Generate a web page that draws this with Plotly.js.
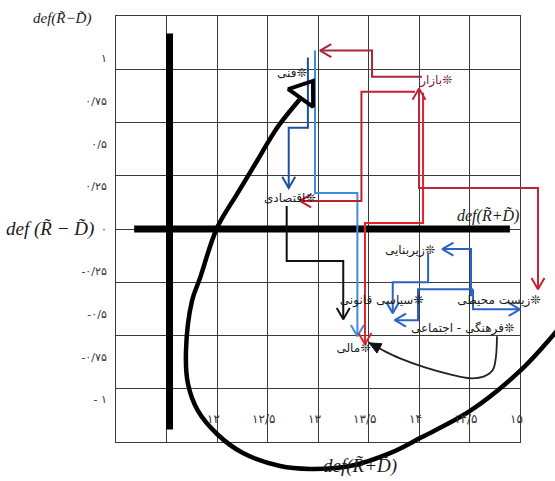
<!DOCTYPE html>
<html><head><meta charset="utf-8">
<script src="https://cdn.plot.ly/plotly-3.0.1.min.js"></script>
<style>html,body{margin:0;padding:0;background:#fff}#chart{width:555px;height:481px}</style>
</head><body><div id="chart"></div>
<script>
// ---- axis values / tick labels ----
const xRange = [11, 15];
const yRange = [-1.25, 1.25];
const yTickVals = [1, 0.75, 0.5, 0.25, 0, -0.25, -0.5, -0.75, -1];
const yTickText = ['۱', '۰/۷۵', '۰/۵', '۰/۲۵', '۰', '-۰/۲۵', '-۰/۵', '-۰/۷۵', '- ۱'];
const xTickVals = [12, 12.5, 13, 13.5, 14, 14.5, 15];
const xTickText = ['۱۲', '۱۲/۵', '۱۳', '۱۳/۵', '۱۴', '۱۴/۵', '۱۵'];

// ---- criteria (nodes) ----
const nodeNames = ['فنی❊', 'بازار❊', 'اقتصادی❊', 'زیربنایی❊', 'سیاسی قانونی❊', 'زیست محیطی❊', 'فرهنگی - اجتماعی❊', 'مالی❊'];
const nodeX = [12.74, 14.17, 12.72, 13.91, 13.63, 14.79, 14.43, 13.35];
const nodeY = [0.912, 0.871, 0.176, -0.129, -0.424, -0.424, -0.588, -0.706];

// ---- thick main axes ----
const axisHX = [11.18, 14.90];
const axisHY = [0, 0];
const axisVX = [11.53, 11.53];
const axisVY = [1.147, -1.176];

// ---- relation paths (step arrows) ----
const techEcoX = [12.90, 12.90, 12.71, 12.71];
const techEcoY = [1.006, 0.594, 0.594, 0.241];
const techFinX = [12.97, 12.97, 13.39, 13.39];
const techFinY = [1.047, 0.212, 0.212, -0.629];
const marketTechX = [14.03, 13.535, 13.535, 13.02];
const marketTechY = [0.894, 0.894, 1.047, 1.047];
const marketEcoX = [13.96, 13.43, 13.43, 12.82];
const marketEcoY = [0.806, 0.806, 0.165, 0.165];
const marketFinX = [14.04, 14.04, 13.465, 13.465];
const marketFinY = [0.800, 0.035, 0.035, -0.676];
const marketEnvX = [14.0, 14.0, 15.178, 15.178];
const marketEnvY = [0.824, 0.241, 0.241, -0.353];
const ecoPolX = [12.69, 12.69, 13.25, 13.25];
const ecoPolY = [0.135, -0.188, -0.188, -0.529];
const envInfraX = [14.515, 14.515, 14.23];
const envInfraY = [-0.394, -0.118, -0.118];
const infraPolX = [14.09, 14.09, 13.74, 13.74];
const infraPolY = [-0.141, -0.312, -0.312, -0.494];
const envPolX = [14.535, 13.99, 13.99, 13.76];
const envPolY = [-0.353, -0.353, -0.535, -0.535];
const envRightX = [14.535, 14.535, 15.0];
const envRightY = [-0.353, -0.471, -0.471];

// ---- curves ----
const cultFinX = [14.772, 14.762, 14.733, 14.644, 14.505, 14.307, 14.059, 13.812, 13.663, 13.505];
const cultFinY = [-0.629, -0.747, -0.824, -0.865, -0.876, -0.853, -0.812, -0.759, -0.718, -0.668];
const bigCurveX = [15.40, 15.347, 15.0, 14.505, 14.010, 13.713, 13.317, 12.921, 12.624, 12.257, 12.0, 11.812, 11.713, 11.693, 11.752, 11.832, 12.0, 12.198, 12.396, 12.594, 12.822, 12.950];
const bigCurveY = [-0.57, -0.610, -0.833, -1.068, -1.227, -1.315, -1.391, -1.408, -1.391, -1.315, -1.203, -1.068, -0.910, -0.716, -0.423, -0.288, 0.006, 0.205, 0.399, 0.593, 0.763, 0.869];

// ---- figure geometry ----
const W = 555, H = 481;
const plotL = 116, plotR = 520, plotT = 16, plotB = 442;
const xDomain = [plotL / W, plotR / W];
const yDomain = [1 - plotB / H, 1 - plotT / H];
const pxPerX = (plotR - plotL) / (xRange[1] - xRange[0]);
const pxPerY = (plotB - plotT) / (yRange[1] - yRange[0]);
const x2Range = [xRange[0] - plotL / pxPerX, xRange[1] + (W - plotR) / pxPerX];
const y2Range = [yRange[0] - (H - plotB) / pxPerY, yRange[1] + plotT / pxPerY];

function toPx(x, y) { return [(x - x2Range[0]) * pxPerX, (y2Range[1] - y) * pxPerY]; }
function toData(p) { return [x2Range[0] + p[0] / pxPerX, y2Range[1] - p[1] / pxPerY]; }
// head geometry along the direction of the last segment (pixel space)
function headPoints(xs, ys, tipIdx, prevIdx, len, halfAngleDeg) {
  const T = toPx(xs[tipIdx], ys[tipIdx]);
  const P = toPx(xs[prevIdx], ys[prevIdx]);
  let dx = P[0] - T[0], dy = P[1] - T[1];
  const d = Math.hypot(dx, dy); dx /= d; dy /= d;
  const a = halfAngleDeg * Math.PI / 180;
  const legs = [-1, 1].map(s => {
    const c = Math.cos(s * a), sn = Math.sin(s * a);
    return toData([T[0] + len * (dx * c - dy * sn), T[1] + len * (dx * sn + dy * c)]);
  });
  return {tip: [xs[tipIdx], ys[tipIdx]], a: legs[0], b: legs[1]};
}

const traces = [];
const annotations = [];

// thick axes on the grid subplot
traces.push({x: axisHX, y: axisHY, xaxis: 'x', yaxis: 'y', mode: 'lines', line: {color: '#000', width: 7}, hoverinfo: 'skip'});
traces.push({x: axisVX, y: axisVY, xaxis: 'x', yaxis: 'y', mode: 'lines', line: {color: '#000', width: 7}, hoverinfo: 'skip'});

function stepPath(xs, ys, color, both) {
  const px = xs.slice(), py = ys.slice();
  const n = xs.length;
  const heads = [headPoints(xs, ys, n - 1, n - 2, 13, 30)];
  if (both) heads.push(headPoints(xs, ys, 0, 1, 13, 30));
  heads.forEach(h => { px.push(null, h.a[0], h.tip[0], h.b[0]); py.push(null, h.a[1], h.tip[1], h.b[1]); });
  traces.push({x: px, y: py, xaxis: 'x2', yaxis: 'y2', mode: 'lines', line: {color: color, width: 2}, hoverinfo: 'skip'});
}

stepPath(techEcoX, techEcoY, '#1f4fa3');
stepPath(techFinX, techFinY, '#3d8de0');
stepPath(marketTechX, marketTechY, '#a8283a');
stepPath(marketEcoX, marketEcoY, '#c41e2e');
stepPath(marketFinX, marketFinY, '#e3232c');
stepPath(marketEnvX, marketEnvY, '#c02438', true);
stepPath(ecoPolX, ecoPolY, '#111111');
stepPath(envInfraX, envInfraY, '#2b63c4');
stepPath(infraPolX, infraPolY, '#2b63c4');
stepPath(envPolX, envPolY, '#2b63c4');
stepPath(envRightX, envRightY, '#2b63c4');

// small curve with filled head
traces.push({x: cultFinX, y: cultFinY, xaxis: 'x2', yaxis: 'y2', mode: 'lines', line: {color: '#222', width: 1.8, shape: 'spline'}, hoverinfo: 'skip'});
{
  const n = cultFinX.length;
  const h = headPoints(cultFinX, cultFinY, n - 1, n - 2, 13, 24);
  traces.push({x: [h.a[0], h.tip[0], h.b[0], h.a[0]], y: [h.a[1], h.tip[1], h.b[1], h.a[1]], xaxis: 'x2', yaxis: 'y2',
    mode: 'lines', fill: 'toself', fillcolor: '#111', line: {color: '#111', width: 1}, hoverinfo: 'skip'});
}

// big curve with open triangular head
{
  const n = bigCurveX.length;
  traces.push({x: bigCurveX.slice(0, -1), y: bigCurveY.slice(0, -1), xaxis: 'x2', yaxis: 'y2', mode: 'lines',
    line: {color: '#000', width: 4.5, shape: 'spline', smoothing: 1}, hoverinfo: 'skip'});
  const h = headPoints(bigCurveX, bigCurveY, n - 1, n - 2, 26, 36);
  traces.push({x: [h.tip[0], h.a[0], h.b[0], h.tip[0], h.a[0]], y: [h.tip[1], h.a[1], h.b[1], h.tip[1], h.a[1]], xaxis: 'x2', yaxis: 'y2',
    mode: 'lines', line: {color: '#000', width: 4}, hoverinfo: 'skip'});
}

// node labels
traces.push({x: nodeX, y: nodeY, xaxis: 'x2', yaxis: 'y2', mode: 'text', text: nodeNames, textposition: 'middle center',
  textfont: {family: 'DejaVu Sans', size: 12, color: nodeNames.map((n, i) => i === 1 ? '#7a1f2c' : '#1a1a1a')}, hoverinfo: 'skip'});

// x tick labels, drawn inside the bottom row
xTickVals.forEach((v, i) => annotations.push({x: v, y: (H - 419) / H, xref: 'x', yref: 'paper', text: xTickText[i],
  showarrow: false, xshift: -4, yanchor: 'middle', font: {family: 'DejaVu Sans', size: 12, color: '#333'}}));

// axis names
const serif = 'Liberation Serif, Times New Roman, serif';
function label(txt, px, py, size, anchor) {
  annotations.push({x: px / W, y: 1 - py / H, xref: 'paper', yref: 'paper', text: '<i>' + txt + '</i>', showarrow: false,
    xanchor: anchor || 'center', yanchor: 'middle', font: {family: serif, size: size, color: '#1a1a1a'}});
}
label('def(R\u0303\u2212D\u0303)', 62, 18, 15);
label('def (R\u0303 \u2212 D\u0303)', 50, 229, 19);
label('def(R\u0303+D\u0303)', 488, 216, 16);
label('def(R\u0303+D\u0303)', 360, 466, 19);

const layout = {
  width: W, height: H, margin: {l: 0, r: 0, t: 0, b: 0},
  paper_bgcolor: '#ffffff', plot_bgcolor: 'rgba(0,0,0,0)', showlegend: false,
  xaxis: {domain: xDomain, range: xRange, tickmode: 'linear', tick0: 11, dtick: 0.5, showgrid: true, gridcolor: '#3a3a3a', gridwidth: 1,
    showticklabels: false, ticks: '', zeroline: false, showline: true, mirror: true, linecolor: '#3a3a3a', linewidth: 1, fixedrange: true},
  yaxis: {domain: yDomain, range: yRange, tickmode: 'array', tickvals: yTickVals, ticktext: yTickText, showgrid: false, zeroline: false,
    showline: true, mirror: true, linecolor: '#3a3a3a', linewidth: 1, ticks: '', ticklabelstandoff: 6,
    tickfont: {family: 'DejaVu Sans', size: 11, color: '#333'},
    minor: {tickmode: 'linear', tick0: 0, dtick: 0.3125, showgrid: true, gridcolor: '#3a3a3a', gridwidth: 1, ticks: ''}, fixedrange: true},
  xaxis2: {domain: [0, 1], range: x2Range, visible: false, anchor: 'y2', fixedrange: true},
  yaxis2: {domain: [0, 1], range: y2Range, visible: false, anchor: 'x2', fixedrange: true},
  annotations: annotations
};

Plotly.newPlot('chart', traces, layout, {staticPlot: true, displayModeBar: false});
</script></body></html>
